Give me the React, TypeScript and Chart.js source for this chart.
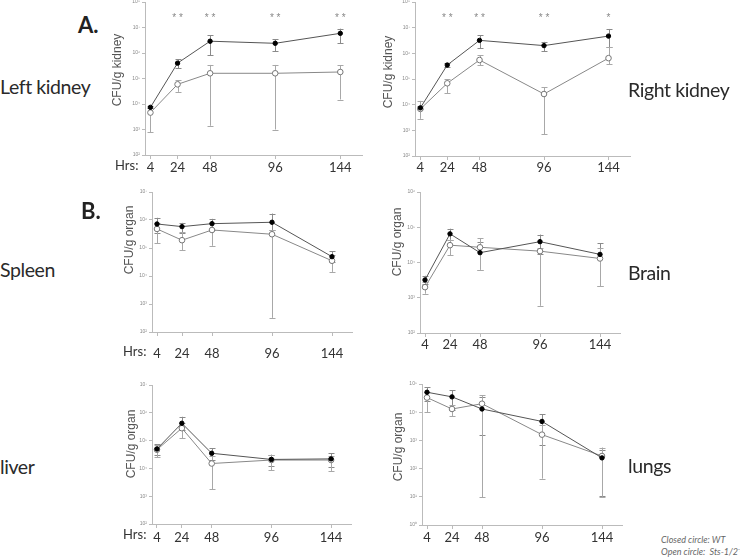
import React, { useEffect, useRef } from "react";
import { Chart, registerables } from "chart.js";
Chart.register(...registerables);

const HOURS = [4, 24, 48, 96, 144];

// Left kidney
const lkWT = [7.4e3, 4.0e5, 2.9e6, 2.4e6, 5.9e6];
const lkWTHi = [8.2e3, 5.8e5, 5.0e6, 3.5e6, 9.0e6];
const lkWTLo = [6.8e3, 2.5e5, 8.3e5, 1.2e6, 2.4e6];
const lkKO = [4.6e3, 5.9e4, 1.6e5, 1.6e5, 1.8e5];
const lkKOHi = [6.8e3, 8.7e4, 3.4e5, 3.4e5, 3.3e5];
const lkKOLo = [7.8e2, 3.0e4, 1.4e3, 1.0e3, 1.5e4];
const lkSig = ["", "**", "**", "**", "**"];

// Right kidney
const rkWT = [7.5e3, 3.5e5, 3.2e6, 2.0e6, 4.7e6];
const rkWTHi = [9.0e3, 4.2e5, 5.1e6, 2.8e6, 8.9e6];
const rkWTLo = [6.5e3, 3.0e5, 1.6e6, 1.2e6, 1.7e6];
const rkKO = [6.8e3, 6.8e4, 5.5e5, 2.6e4, 6.5e5];
const rkKOHi = [1.4e4, 1.0e5, 8.3e5, 4.7e4, 1.7e6];
const rkKOLo = [2.8e3, 2.8e4, 3.5e5, 7.1e2, 3.7e5];
const rkSig = ["", "**", "**", "**", "*"];

// Spleen
const spWT = [7.2e5, 5.8e5, 7.4e5, 8.3e5, 4.9e4];
const spWTHi = [1.2e6, 7.9e5, 1.1e6, 1.7e6, 7.8e4];
const spWTLo = [3.3e5, 3.4e5, 4.4e5, 4.4e5, 3.2e4];
const spKO = [4.8e5, 1.9e5, 4.4e5, 3.1e5, 3.5e4];
const spKOHi = [7.6e5, 3.6e5, 7.9e5, 4.4e5, 5.6e4];
const spKOLo = [1.5e5, 8.5e4, 1.2e5, 3.2e2, 1.4e4];

// Brain
const brWT = [3.2e3, 6.5e4, 1.9e4, 3.9e4, 1.7e4];
const brWTHi = [4.2e3, 9.1e4, 3.9e4, 6.2e4, 3.5e4];
const brWTLo = [2.5e3, 4.4e4, 6.3e3, 1.7e4, 2.2e3];
const brKO = [2.0e3, 3.1e4, 2.7e4, 2.1e4, 1.3e4];
const brKOHi = [2.8e3, 4.4e4, 4.8e4, 2.5e4, 2.5e4];
const brKOLo = [1.3e3, 1.6e4, 6.3e3, 5.9e2, 2.2e3];

// Liver
const lvWT = [5.0e4, 4.2e5, 3.5e4, 2.1e4, 2.2e4];
const lvWTHi = [7.4e4, 7.2e5, 5.4e4, 3.1e4, 3.5e4];
const lvWTLo = [3.1e4, 2.5e5, 2.0e4, 1.2e4, 1.1e4];
const lvKO = [4.7e4, 2.8e5, 1.5e4, 2.0e4, 2.0e4];
const lvKOHi = [7.1e4, 4.2e5, 2.7e4, 3.1e4, 2.7e4];
const lvKOLo = [2.5e4, 1.2e5, 1.8e3, 8.5e3, 8.1e3];

// Lungs
const luWT = [5.1e4, 3.5e4, 1.3e4, 4.7e3, 2.4e2];
const luWTHi = [7.8e4, 5.9e4, 3.6e4, 8.5e3, 4.5e2];
const luWTLo = [2.4e4, 1.2e4, 1.5e3, 6.8e2, 1.1e1];
const luKO = [3.3e4, 1.3e4, 2.0e4, 1.6e3, 2.8e2];
const luKOHi = [5.1e4, 1.8e4, 4.0e4, 3.5e3, 5.6e2];
const luKOLo = [1.0e4, 7.1e3, 9.8, 4.4e1, 1.0e1];

const SUP: Record<string, string> = { "0": "\u2070", "1": "\u00b9", "2": "\u00b2", "3": "\u00b3", "4": "\u2074", "5": "\u2075", "6": "\u2076", "7": "\u2077", "8": "\u2078", "9": "\u2079" };
const powLabel = (v: number) => "10" + String(Math.round(Math.log10(v))).split("").map((c) => SUP[c] || c).join("");

type PanelCfg = {
  id: string; L: number; T: number; R: number; B: number;
  eMin: number; eMax: number;
  wt: number[]; wtHi: number[]; wtLo: number[];
  ko: number[]; koHi: number[]; koLo: number[];
  sig?: string[]; pad: number;
};

const PANELS: PanelCfg[] = [
  { id: "lk", L: 145, T: 2, R: 362, B: 155, eMin: 2, eMax: 8, wt: lkWT, wtHi: lkWTHi, wtLo: lkWTLo, ko: lkKO, koHi: lkKOHi, koLo: lkKOLo, sig: lkSig, pad: 1 },
  { id: "rk", L: 415, T: 2, R: 630, B: 156, eMin: 2, eMax: 8, wt: rkWT, wtHi: rkWTHi, wtLo: rkWTLo, ko: rkKO, koHi: rkKOHi, koLo: rkKOLo, sig: rkSig, pad: 0 },
  { id: "sp", L: 152, T: 192, R: 352, B: 332, eMin: 2, eMax: 7, wt: spWT, wtHi: spWTHi, wtLo: spWTLo, ko: spKO, koHi: spKOHi, koLo: spKOLo, pad: 10 },
  { id: "br", L: 420, T: 192, R: 620, B: 333, eMin: 2, eMax: 6, wt: brWT, wtHi: brWTHi, wtLo: brWTLo, ko: brKO, koHi: brKOHi, koLo: brKOLo, pad: 0 },
  { id: "lv", L: 152, T: 385, R: 351, B: 524, eMin: 2, eMax: 7, wt: lvWT, wtHi: lvWTHi, wtLo: lvWTLo, ko: lvKO, koHi: lvKOHi, koLo: lvKOLo, pad: 2 },
  { id: "lu", L: 422, T: 384, R: 622, B: 525, eMin: 0, eMax: 5, wt: luWT, wtHi: luWTHi, wtLo: luWTLo, ko: luKO, koHi: luKOHi, koLo: luKOLo, pad: 1 },
];

const errorBarPlugin = {
  id: "errbars",
  beforeDatasetsDraw(chart: any) {
    const ctx = chart.ctx;
    const xs = chart.scales.x;
    const ys = chart.scales.y;
    ctx.save();
    chart.data.datasets.forEach((ds: any) => {
      ctx.strokeStyle = ds.errColor;
      ctx.lineWidth = 1;
      ds.data.forEach((pt: any, i: number) => {
        const x = Math.round(xs.getPixelForValue(pt.x)) + 0.5;
        const yh = ys.getPixelForValue(ds.errHi[i]);
        const yl = ys.getPixelForValue(ds.errLo[i]);
        ctx.beginPath();
        ctx.moveTo(x, yh);
        ctx.lineTo(x, yl);
        ctx.moveTo(x - 3, Math.round(yh) + 0.5);
        ctx.lineTo(x + 3, Math.round(yh) + 0.5);
        ctx.moveTo(x - 3, Math.round(yl) + 0.5);
        ctx.lineTo(x + 3, Math.round(yl) + 0.5);
        ctx.stroke();
      });
    });
    ctx.restore();
  },
};

const sigPlugin = {
  id: "sig",
  afterDraw(chart: any, _args: any, opts: any) {
    const labels: string[] = (opts && opts.labels) || [];
    if (!labels.length) return;
    const ctx = chart.ctx;
    const xs = chart.scales.x;
    ctx.save();
    ctx.fillStyle = "#888";
    ctx.font = "10px 'Liberation Sans'";
    ctx.textAlign = "center";
    ctx.textBaseline = "middle";
    labels.forEach((s, i) => {
      if (!s) return;
      const txt = s.split("").join(" ");
      ctx.fillText(txt, xs.getPixelForValue(HOURS[i]), chart.chartArea.top + 16);
    });
    ctx.restore();
  },
};

function PanelChart({ p }: { p: PanelCfg }) {
  const ref = useRef<HTMLCanvasElement>(null);
  const left = p.L - 45;
  const top = p.T - 20;
  const width = p.R - left + 12;
  const height = p.B - top + 30;
  useEffect(() => {
    const chart = new Chart(ref.current as HTMLCanvasElement, {
      type: "line",
      data: {
        datasets: [
          {
            label: "WT",
            data: HOURS.map((h, i) => ({ x: h, y: p.wt[i] })),
            errHi: p.wtHi, errLo: p.wtLo, errColor: "#8a8a8a",
            borderColor: "#555", borderWidth: 1,
            pointRadius: 2.2, pointBackgroundColor: "#000", pointBorderColor: "#000", pointBorderWidth: 1,
          } as any,
          {
            label: "Sts-1/2-/-",
            data: HOURS.map((h, i) => ({ x: h, y: p.ko[i] })),
            errHi: p.koHi, errLo: p.koLo, errColor: "#a8a8a8",
            borderColor: "#888", borderWidth: 1,
            pointRadius: 2.8, pointBackgroundColor: "#fff", pointBorderColor: "#777", pointBorderWidth: 1,
          } as any,
        ],
      },
      options: {
        responsive: false,
        animation: false,
        devicePixelRatio: 1,
        layout: { padding: { top: 20, right: 12, left: 0, bottom: 0 } },
        plugins: { legend: { display: false }, tooltip: { enabled: false }, sig: { labels: p.sig || [] } } as any,
        scales: {
          x: {
            type: "linear",
            min: 0,
            max: 160,
            afterBuildTicks: (s: any) => { s.ticks = HOURS.map((v) => ({ value: v })); },
            afterFit: (s: any) => { s.height = 30; },
            grid: { drawOnChartArea: false, drawTicks: true, tickLength: 4, color: "#bbb" },
            border: { display: true, color: "#bbb" },
            ticks: { autoSkip: false, maxRotation: 0, padding: p.pad, color: "#333", font: { family: "Lato", size: 13 }, callback: (v: any) => String(v) },
          },
          y: {
            type: "logarithmic",
            min: Math.pow(10, p.eMin),
            max: Math.pow(10, p.eMax),
            afterBuildTicks: (s: any) => {
              const t = [];
              for (let e = p.eMin; e <= p.eMax; e++) t.push({ value: Math.pow(10, e), major: true });
              s.ticks = t;
            },
            afterFit: (s: any) => { s.width = 45; },
            grid: { drawOnChartArea: false, drawTicks: true, tickLength: 3, color: "#bbb" },
            border: { display: true, color: "#bbb" },
            ticks: { padding: 2, color: "#888", font: { family: "Liberation Sans", size: 5 }, callback: (v: any) => powLabel(Number(v)) },
          },
        },
      },
      plugins: [errorBarPlugin, sigPlugin],
    } as any);
    return () => chart.destroy();
  }, []);
  return <canvas ref={ref} width={width} height={height} style={{ position: "absolute", left, top, width, height }} />;
}

type TextItem = { t: React.ReactNode; x: number; y: number; size: number; bold?: boolean; italic?: boolean; color?: string; family?: string; ls?: number };

const LABELS: TextItem[] = [
  { t: "A.", x: 78, y: 14, size: 22, bold: true },
  { t: "B.", x: 81, y: 200, size: 22, bold: true },
  { t: "Left kidney", x: 0, y: 77, size: 19.5, color: "#2a2a2a", ls: -0.4 },
  { t: "Right kidney", x: 628, y: 80, size: 19.5, color: "#2a2a2a", ls: -0.4 },
  { t: "Spleen", x: 0, y: 260, size: 19.5, color: "#2a2a2a", ls: -0.4 },
  { t: "Brain", x: 628, y: 263, size: 19.5, color: "#2a2a2a", ls: -0.4 },
  { t: "liver", x: 0, y: 457, size: 19.5, color: "#2a2a2a", ls: -0.4 },
  { t: "lungs", x: 628, y: 456, size: 19.5, color: "#2a2a2a", ls: -0.4 },
  { t: "Hrs:", x: 115, y: 159, size: 13, color: "#333" },
  { t: "Hrs:", x: 123, y: 345, size: 13, color: "#333" },
  { t: "Hrs:", x: 123, y: 528, size: 13, color: "#333" },
  { t: "Closed circle: WT", x: 661, y: 535, size: 9, italic: true, color: "#666" },
  { t: <span>Open circle:&nbsp; Sts-1/2<sup style={{ fontSize: 5.5 }}>-/-</sup></span>, x: 661, y: 547, size: 9, italic: true, color: "#666" },
];

const YTITLES = [
  { t: "CFU/g kidney", cx: 117, cy: 70 },
  { t: "CFU/g kidney", cx: 388, cy: 72 },
  { t: "CFU/g organ", cx: 129, cy: 240 },
  { t: "CFU/g organ", cx: 397, cy: 242 },
  { t: "CFU/g organ", cx: 131, cy: 444 },
  { t: "CFU/g organ", cx: 398, cy: 447 },
];

export default function App() {
  return (
    <div style={{ position: "absolute", left: 0, top: 0, width: 740, height: 559, background: "#fff", overflow: "hidden" }}>
      {PANELS.map((p) => <PanelChart key={p.id} p={p} />)}
      {LABELS.map((l, i) => (
        <div key={i} style={{ position: "absolute", left: l.x, top: l.y, fontFamily: l.family || "Lato", fontSize: l.size, lineHeight: 1, fontWeight: l.bold ? 700 : 400, fontStyle: l.italic ? "italic" : "normal", color: l.color || "#222", whiteSpace: "nowrap", letterSpacing: l.ls || 0 }}>{l.t}</div>
      ))}
      {YTITLES.map((y, i) => (
        <div key={"y" + i} style={{ position: "absolute", left: y.cx, top: y.cy, transform: "translate(-50%,-50%) rotate(-90deg)", fontFamily: "Liberation Sans", fontSize: 12, color: "#555", whiteSpace: "nowrap", lineHeight: 1 }}>{y.t}</div>
      ))}
    </div>
  );
}
